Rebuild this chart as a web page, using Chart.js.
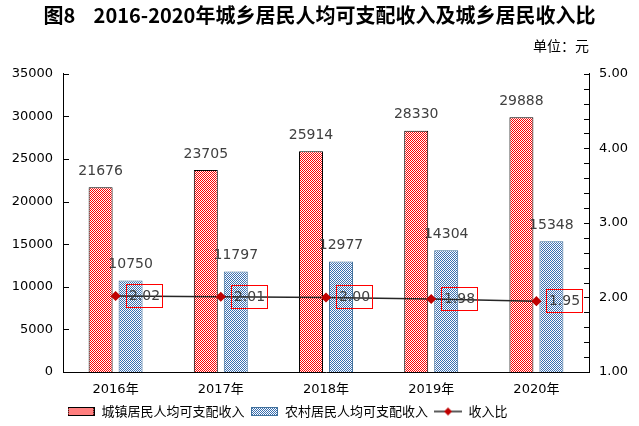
<!DOCTYPE html>
<html>
<head>
<meta charset="utf-8">
<script src="https://cdn.jsdelivr.net/npm/chart.js@4.4.0/dist/chart.umd.min.js"></script>
<style>
  html, body { margin: 0; padding: 0; background: #fff; }
  #wrap { width: 639px; height: 426px; }
</style>
</head>
<body>
<div id="wrap"><canvas id="chart"></canvas></div>
<script>
const years = ["2016年", "2017年", "2018年", "2019年", "2020年"];
const urbanIncome = [21676, 23705, 25914, 28330, 29888];
const ruralIncome = [10750, 11797, 12977, 14304, 15348];
const incomeRatio = [2.02, 2.01, 2.0, 1.98, 1.95];
const incomeTicks = [0, 5000, 10000, 15000, 20000, 25000, 30000, 35000];
const ratioTicks = [1, 2, 3, 4, 5];
const ratioMinorStep = 0.2;

const CJK = "'Noto Sans CJK SC', 'DejaVu Sans', sans-serif";
const NUM = "'DejaVu Sans', 'Noto Sans CJK SC', sans-serif";

const canvas = document.getElementById("chart");
const ctx = canvas.getContext("2d");

// small dotted fills like the office-chart pattern fills
function makeTile(color, isInk) {
  const t = document.createElement("canvas");
  t.width = 4;
  t.height = 4;
  const g = t.getContext("2d");
  g.fillStyle = "#fff";
  g.fillRect(0, 0, 4, 4);
  g.fillStyle = color;
  for (let x = 0; x < 4; x++) {
    for (let y = 0; y < 4; y++) {
      if (isInk(x, y)) g.fillRect(x, y, 1, 1);
    }
  }
  return t;
}
const redTile = makeTile("#ff0000", (x, y) => (x + y) % 2 === 0 || (x % 2 === 1 && y % 4 === 1));
const blueTile = makeTile("#3a6fb0", (x, y) => (x + y) % 2 === 0);

// legend symbols
function legendBox(tile, border) {
  const c = document.createElement("canvas");
  c.width = 27;
  c.height = 9;
  const g = c.getContext("2d");
  g.fillStyle = g.createPattern(tile, "repeat");
  g.fillRect(0, 0, 27, 9);
  g.strokeStyle = border;
  g.lineWidth = 1;
  g.strokeRect(0.5, 0.5, 26, 8);
  return c;
}
function legendLine() {
  const c = document.createElement("canvas");
  c.width = 28;
  c.height = 10;
  const g = c.getContext("2d");
  g.strokeStyle = "#262626";
  g.lineWidth = 1.5;
  g.beginPath();
  g.moveTo(0, 5);
  g.lineTo(28, 5);
  g.stroke();
  g.fillStyle = "#c00000";
  g.beginPath();
  g.moveTo(14, 1);
  g.lineTo(18, 5);
  g.lineTo(14, 9);
  g.lineTo(10, 5);
  g.closePath();
  g.fill();
  return c;
}
const legendSymbols = [legendBox(redTile, "#000"), legendBox(blueTile, "#41719c"), legendLine()];

// inward tick marks, value labels and boxed ratio labels
const decorate = {
  id: "decorate",
  afterLayout(chart) {
    // start the legend at the left axis, a little lower
    chart.legend.left = chart.chartArea.left - 2;
    chart.legend.top += 2;
    chart.legend.bottom += 2;
  },
  afterDatasetsDraw(chart) {
    const c = chart.ctx;
    const y = chart.scales.y;
    const y1 = chart.scales.y1;
    const area = chart.chartArea;

    c.save();
    c.strokeStyle = "#000";
    c.lineWidth = 1;
    incomeTicks.forEach((v) => {
      const py = Math.round(y.getPixelForValue(v)) + 0.5;
      c.beginPath();
      c.moveTo(area.left, py);
      c.lineTo(area.left + 6, py);
      c.stroke();
    });
    for (let v = y1.min; v <= y1.max + 1e-9; v += ratioMinorStep) {
      const py = Math.round(y1.getPixelForValue(v)) + 0.5;
      c.beginPath();
      c.moveTo(area.right, py);
      c.lineTo(area.right - 5, py);
      c.stroke();
    }

    c.fillStyle = "#404040";
    c.font = "14px " + NUM;
    c.textAlign = "center";
    c.textBaseline = "bottom";
    [0, 1].forEach((i) => {
      const values = chart.data.datasets[i].data;
      chart.getDatasetMeta(i).data.forEach((bar, j) => {
        c.fillText(String(values[j]), bar.x, bar.y - 9);
      });
    });

    c.textBaseline = "middle";
    c.strokeStyle = "#ff0000";
    chart.getDatasetMeta(2).data.forEach((pt, j) => {
      const bx = Math.round(pt.x) + 10.5;
      const by = Math.round(pt.y) - 11.5;
      c.strokeRect(bx, by, 36, 23);
      c.fillText(incomeRatio[j].toFixed(2), bx + 18, by + 12);
    });
    c.restore();
  },
};

// fills are resolved per draw so the pattern comes from the live context
const patternFor = (tile) => (context) => context.chart.ctx.createPattern(tile, "repeat");

new Chart(ctx, {
  data: {
    labels: years,
    datasets: [
      {
        type: "bar",
        label: "城镇居民人均可支配收入",
        data: urbanIncome,
        backgroundColor: patternFor(redTile),
        borderColor: "#000",
        borderWidth: 1,
        yAxisID: "y",
        order: 2,
        categoryPercentage: 0.57,
        barPercentage: 0.8,
      },
      {
        type: "bar",
        label: "农村居民人均可支配收入",
        data: ruralIncome,
        backgroundColor: patternFor(blueTile),
        borderColor: "#41719c",
        borderWidth: 1,
        yAxisID: "y",
        order: 2,
        categoryPercentage: 0.57,
        barPercentage: 0.8,
      },
      {
        type: "line",
        label: "收入比",
        data: incomeRatio,
        borderColor: "#262626",
        borderWidth: 1.5,
        pointStyle: "rectRot",
        pointRadius: 4,
        pointBackgroundColor: "#c00000",
        pointBorderColor: "#c00000",
        yAxisID: "y1",
        order: 1,
      },
    ],
  },
  options: {
    responsive: true,
    maintainAspectRatio: false,
    animation: false,
    devicePixelRatio: 1,
    layout: { padding: { left: 0, right: 0, top: 0, bottom: 0 } },
    plugins: {
      title: {
        display: true,
        text: "图8    2016-2020年城乡居民人均可支配收入及城乡居民收入比",
        color: "#000",
        font: { family: CJK, size: 20, weight: "bold" },
        padding: { top: 3, bottom: 10 },
      },
      subtitle: {
        display: true,
        text: "单位：元",
        align: "end",
        fullSize: false,
        color: "#000",
        font: { family: CJK, size: 14 },
        padding: { top: 0, bottom: 20 },
      },
      legend: {
        position: "bottom",
        align: "start",
        labels: {
          usePointStyle: true,
          pointStyleWidth: 28,
          padding: 6,
          color: "#404040",
          font: { family: CJK, size: 13 },
          generateLabels: (chart) =>
            chart.data.datasets.map((ds, i) => ({
              text: ds.label,
              pointStyle: legendSymbols[i],
              fillStyle: "transparent",
              strokeStyle: "transparent",
              lineWidth: 0,
              datasetIndex: i,
            })),
        },
      },
      tooltip: { enabled: false },
    },
    scales: {
      x: {
        grid: { display: false, drawTicks: false },
        border: { display: true, color: "#000", width: 1 },
        ticks: { color: "#000", font: { family: NUM, size: 13 }, padding: 10 },
        afterFit: (s) => { s.height = 25; },
      },
      y: {
        position: "left",
        min: incomeTicks[0],
        max: incomeTicks[incomeTicks.length - 1],
        grid: { display: false, drawTicks: false },
        border: { display: true, color: "#000", width: 1 },
        ticks: {
          stepSize: 5000,
          color: "#000",
          font: { family: NUM, size: 13 },
          padding: 10,
          callback: (v) => String(v),
        },
        afterFit: (s) => { s.width = 63; },
      },
      y1: {
        position: "right",
        min: ratioTicks[0],
        max: ratioTicks[ratioTicks.length - 1],
        grid: { display: false, drawTicks: false },
        border: { display: true, color: "#000", width: 1 },
        ticks: {
          stepSize: 1,
          color: "#000",
          font: { family: NUM, size: 13 },
          padding: 10,
          callback: (v) => Number(v).toFixed(2),
        },
        afterFit: (s) => { s.width = 50; },
      },
    },
  },
  plugins: [decorate],
});
</script>
</body>
</html>
